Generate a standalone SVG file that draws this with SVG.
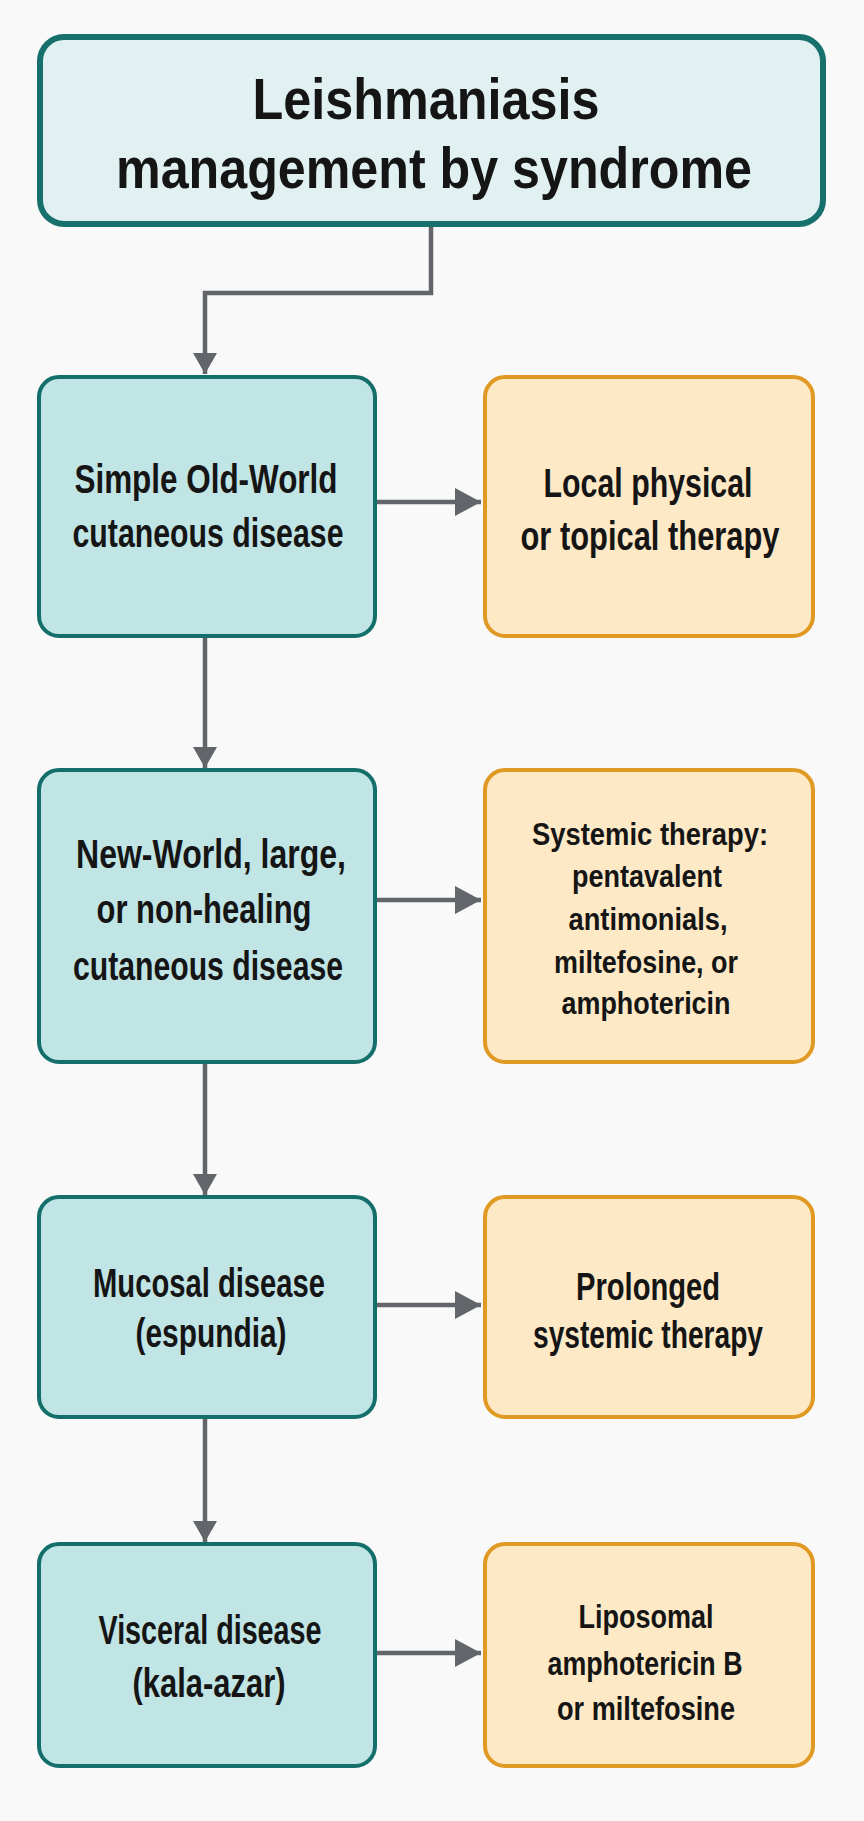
<svg xmlns="http://www.w3.org/2000/svg" width="864" height="1821" viewBox="0 0 864 1821">
<defs>
<style>
.t{font-family:"Liberation Sans",Arial,sans-serif;font-weight:bold;fill:#151515;text-anchor:middle}
.title{fill:#e1f1f1;stroke:#17706c;stroke-width:6}
.cond{fill:#c1e4e4;stroke:#146f6b;stroke-width:4}
.tx{fill:#fde9c6;stroke:#e09a24;stroke-width:4}
.c{fill:none;stroke:#62666a;stroke-width:4.5}
.h{marker-end:url(#ah)}
.v{marker-end:url(#av)}
</style>
<marker id="ah" markerUnits="userSpaceOnUse" markerWidth="26" markerHeight="28" refX="26" refY="14" orient="auto"><path d="M0,0 L26,14 L0,28 Z" fill="#62666a"/></marker>
<marker id="av" markerUnits="userSpaceOnUse" markerWidth="21" markerHeight="24" refX="21" refY="12" orient="auto"><path d="M0,0 L21,12 L0,24 Z" fill="#62666a"/></marker>
</defs>
<rect width="864" height="1821" fill="#f9f9f9"/>
<g id="connectors">
<path class="c v" d="M431,227 V293 H205 V374"/>
<path class="c h" d="M377,502 H481"/>
<path class="c v" d="M205,637 V768"/>
<path class="c h" d="M377,900 H481"/>
<path class="c v" d="M205,1063 V1195"/>
<path class="c h" d="M377,1305 H481"/>
<path class="c v" d="M205,1418 V1542"/>
<path class="c h" d="M377,1653 H481"/>
</g>
<g id="title">
<rect class="title" x="40" y="37" width="783" height="187" rx="24"/>
<text class="t" font-size="57" x="426" y="119" textLength="347" lengthAdjust="spacingAndGlyphs">Leishmaniasis</text>
<text class="t" font-size="57" x="434" y="188" textLength="636" lengthAdjust="spacingAndGlyphs">management by syndrome</text>
</g>
<g id="n1">
<rect class="cond" x="39" y="377" width="336" height="259" rx="20"/>
<text class="t" font-size="41" x="206" y="493" textLength="263" lengthAdjust="spacingAndGlyphs">Simple Old-World</text>
<text class="t" font-size="41" x="208" y="547" textLength="271" lengthAdjust="spacingAndGlyphs">cutaneous disease</text>
</g>
<g id="r1">
<rect class="tx" x="485" y="377" width="328" height="259" rx="20"/>
<text class="t" font-size="41" x="648" y="497" textLength="209" lengthAdjust="spacingAndGlyphs">Local physical</text>
<text class="t" font-size="41" x="650" y="550" textLength="259" lengthAdjust="spacingAndGlyphs">or topical therapy</text>
</g>
<g id="n2">
<rect class="cond" x="39" y="770" width="336" height="292" rx="20"/>
<text class="t" font-size="41" x="211" y="868" textLength="270" lengthAdjust="spacingAndGlyphs">New-World, large,</text>
<text class="t" font-size="41" x="204" y="923" textLength="215" lengthAdjust="spacingAndGlyphs">or non-healing</text>
<text class="t" font-size="41" x="208" y="980" textLength="270" lengthAdjust="spacingAndGlyphs">cutaneous disease</text>
</g>
<g id="r2">
<rect class="tx" x="485" y="770" width="328" height="292" rx="20"/>
<text class="t" font-size="32" x="650" y="845" textLength="236" lengthAdjust="spacingAndGlyphs">Systemic therapy:</text>
<text class="t" font-size="32" x="647" y="887" textLength="150" lengthAdjust="spacingAndGlyphs">pentavalent</text>
<text class="t" font-size="32" x="648" y="930" textLength="159" lengthAdjust="spacingAndGlyphs">antimonials,</text>
<text class="t" font-size="32" x="646" y="973" textLength="184" lengthAdjust="spacingAndGlyphs">miltefosine, or</text>
<text class="t" font-size="32" x="646" y="1014" textLength="169" lengthAdjust="spacingAndGlyphs">amphotericin</text>
</g>
<g id="n3">
<rect class="cond" x="39" y="1197" width="336" height="220" rx="20"/>
<text class="t" font-size="41" x="209" y="1297" textLength="232" lengthAdjust="spacingAndGlyphs">Mucosal disease</text>
<text class="t" font-size="41" x="211" y="1347" textLength="151" lengthAdjust="spacingAndGlyphs">(espundia)</text>
</g>
<g id="r3">
<rect class="tx" x="485" y="1197" width="328" height="220" rx="20"/>
<text class="t" font-size="38" x="648" y="1300" textLength="144" lengthAdjust="spacingAndGlyphs">Prolonged</text>
<text class="t" font-size="38" x="648" y="1348" textLength="230" lengthAdjust="spacingAndGlyphs">systemic therapy</text>
</g>
<g id="n4">
<rect class="cond" x="39" y="1544" width="336" height="222" rx="20"/>
<text class="t" font-size="41" x="210" y="1644" textLength="223" lengthAdjust="spacingAndGlyphs">Visceral disease</text>
<text class="t" font-size="41" x="209" y="1697" textLength="153" lengthAdjust="spacingAndGlyphs">(kala-azar)</text>
</g>
<g id="r4">
<rect class="tx" x="485" y="1544" width="328" height="222" rx="20"/>
<text class="t" font-size="33" x="646" y="1628" textLength="135" lengthAdjust="spacingAndGlyphs">Liposomal</text>
<text class="t" font-size="33" x="645" y="1675" textLength="195" lengthAdjust="spacingAndGlyphs">amphotericin B</text>
<text class="t" font-size="33" x="646" y="1720" textLength="178" lengthAdjust="spacingAndGlyphs">or miltefosine</text>
</g>
</svg>
